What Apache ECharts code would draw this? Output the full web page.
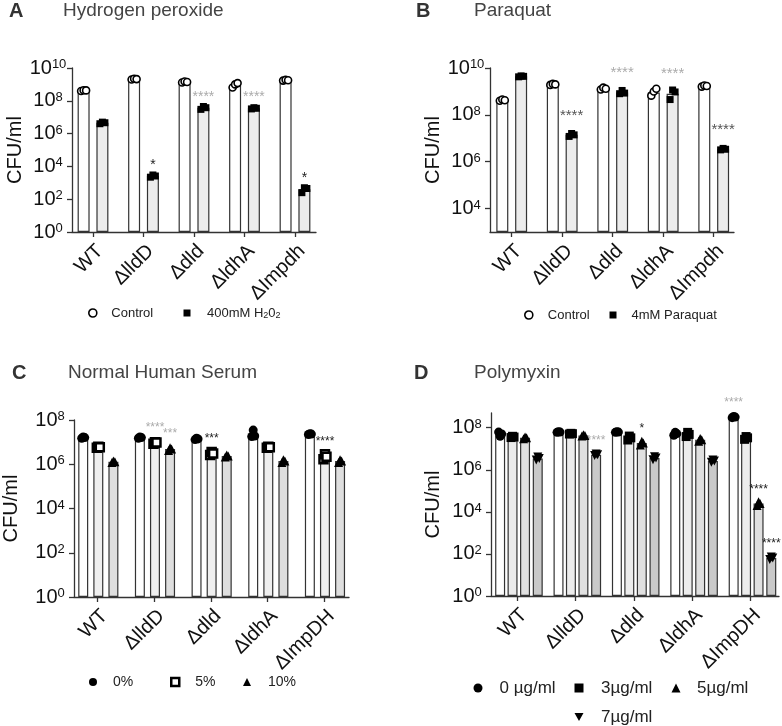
<!DOCTYPE html>
<html><head><meta charset="utf-8">
<script src="https://cdn.jsdelivr.net/npm/echarts@6/dist/echarts.min.js"></script>
<style>html,body{margin:0;padding:0;background:#fff}#c{width:782px;height:726px}</style>
</head><body><div id="c"></div>
<script>
// ---------------- DATA ----------------
const catsAB = ['WT', 'ΔlldD', 'Δdld', 'ΔldhA', 'ΔImpdh'];
const catsCD = ['WT', 'ΔlldD', 'Δdld', 'ΔldhA', 'ΔImpDH'];

// Panel A: Hydrogen peroxide
const aCtrlMean = [4.2e8, 2.1e9, 1.4e9, 8.5e8, 1.8e9];
const aCtrlReps = [[4.0e8, 4.4e8, 4.3e8], [2.0e9, 2.2e9, 2.1e9], [1.3e9, 1.5e9, 1.4e9], [6.5e8, 1.0e9, 1.2e9], [1.7e9, 1.9e9, 1.8e9]];
const aH2o2Mean = [4.6e6, 2.6e3, 3.8e7, 3.5e7, 4.0e2];
const aH2o2Reps = [[4.0e6, 5.0e6, 4.6e6], [2.2e3, 3.0e3, 2.6e3], [3.0e7, 4.5e7, 3.8e7], [3.2e7, 3.8e7, 3.5e7], [2.5e2, 5.0e2, 4.5e2]];
const aH2o2Stars = ['', '*', '****', '****', '*'];
const aH2o2Tone = ['', 'd', 'l', 'l', 'd'];

// Panel B: Paraquat
const bCtrlMean = [4.2e8, 2.0e9, 1.3e9, 9.0e8, 1.7e9];
const bCtrlReps = [[4.0e8, 4.5e8, 4.2e8], [1.9e9, 2.1e9, 2.0e9], [1.2e9, 1.45e9, 1.3e9], [6.6e8, 1.0e9, 1.3e9], [1.6e9, 1.8e9, 1.7e9]];
const bParaMean = [4.4e9, 1.4e7, 9.0e8, 8.0e8, 3.4e6];
const bParaReps = [[4.2e9, 4.6e9, 4.4e9], [1.2e7, 1.6e7, 1.4e7], [8.0e8, 1.1e9, 8.5e8], [4.5e8, 1.15e9, 9.5e8], [3.2e6, 3.7e6, 3.4e6]];
const bParaStars = ['', '****', '****', '****', '****'];
const bParaTone = ['', 'm', 'l', 'l', 'm'];

// Panel C: Normal Human Serum
const c0Mean = [1.6e7, 1.6e7, 1.4e7, 2.3e7, 2.3e7];
const c0Reps = [[1.5e7, 1.7e7, 1.6e7], [1.5e7, 1.7e7, 1.6e7], [1.3e7, 1.5e7, 1.4e7], [1.8e7, 3.5e7, 1.9e7], [2.2e7, 2.4e7, 2.3e7]];
const c5Mean = [5.8e6, 9.4e6, 3.1e6, 5.8e6, 2.2e6];
const c5Reps = [[5.5e6, 6.2e6, 5.8e6], [8.5e6, 1.0e7, 9.5e6], [2.6e6, 3.6e6, 3.1e6], [5.5e6, 6.2e6, 5.8e6], [1.7e6, 2.8e6, 2.2e6]];
const c10Mean = [1.3e6, 4.9e6, 2.35e6, 1.4e6, 1.4e6];
const c10Reps = [[1.2e6, 1.4e6, 1.3e6], [4.2e6, 5.6e6, 4.9e6], [2.1e6, 2.6e6, 2.35e6], [1.2e6, 1.6e6, 1.4e6], [1.2e6, 1.6e6, 1.4e6]];
const c5Stars = ['', '****', '***', '', '****'];
const c5Tone = ['', 'l', 'd', '', 'd'];
const c10Stars = ['', '***', '', '', ''];
const c10Tone = ['', 'l', '', '', ''];

// Panel D: Polymyxin
const d0Mean = [5.0e7, 6.2e7, 6.2e7, 5.2e7, 3.2e8];
const d0Reps = [[6.2e7, 3.9e7, 5.0e7], [6.0e7, 6.4e7, 6.2e7], [6.0e7, 6.4e7, 6.2e7], [4.4e7, 6.0e7, 5.2e7], [3.0e8, 3.4e8, 3.2e8]];
const d3Mean = [3.6e7, 5.2e7, 3.3e7, 4.8e7, 3.3e7];
const d3Reps = [[3.4e7, 3.9e7, 3.6e7], [5.0e7, 5.4e7, 5.2e7], [2.6e7, 4.0e7, 3.3e7], [3.8e7, 6.0e7, 4.8e7], [2.8e7, 3.8e7, 3.3e7]];
const d5Mean = [3.3e7, 4.3e7, 1.85e7, 2.7e7, 2.5e4];
const d5Reps = [[3.0e7, 3.6e7, 3.3e7], [4.0e7, 4.6e7, 4.3e7], [1.5e7, 2.3e7, 1.85e7], [2.3e7, 3.1e7, 2.7e7], [2.0e4, 3.0e4, 2.5e4]];
const d7Mean = [3.4e6, 5.2e6, 3.6e6, 2.6e6, 64];
const d7Reps = [[2.9e6, 4.0e6, 3.4e6], [4.8e6, 5.6e6, 5.2e6], [3.0e6, 4.2e6, 3.6e6], [2.3e6, 2.9e6, 2.6e6], [55, 72, 64]];
const d0Stars = ['', '', '', '', '****'];
const d0Tone = ['', '', '', '', 'l'];
const d5Stars = ['', '', '*', '', '****'];
const d5Tone = ['', '', 'd', '', 'd'];
const d7Stars = ['', '****', '', '', '****'];
const d7Tone = ['', 'l', '', '', 'd'];

const tickAC = [1, 1e2, 1e4, 1e6, 1e8, 1e10];
const tickB = [1e4, 1e6, 1e8, 1e10];
const tickCD = [1, 1e2, 1e4, 1e6, 1e8];

// ---------------- STYLE / LAYOUT ----------------
const FONT = '"Liberation Sans", Arial, Helvetica, sans-serif';
const AX = '#333';
const TONE = { d: '#222', m: '#555', l: '#ababab', '': '#222' };
const TRI_DOWN = 'path://M0,0L10,0L5,9Z';

const option = {
  animation: false,
  backgroundColor: '#fff',
  textStyle: { fontFamily: FONT },
  title: [], grid: [], xAxis: [], yAxis: [], series: [], legend: []
};

function addPanel(p) {
  const gi = option.grid.length;
  option.grid.push({ left: p.left, top: p.top, width: p.width, height: p.height });
  const unit = p.width / (p.xmax - p.xmin);
  const catVals = p.cats.map((c, i) => i + 1);
  option.title.push({ text: p.letter, left: p.letterX, top: p.titleY, padding: 0,
    textStyle: { fontSize: 20, fontWeight: 'bold', color: '#333', fontFamily: FONT } });
  option.title.push({ text: p.title, left: p.titleX, top: p.titleY, padding: 0,
    textStyle: { fontSize: 19, fontWeight: 'normal', color: '#444', fontFamily: FONT } });
  option.xAxis.push({
    type: 'value', gridIndex: gi, min: p.xmin, max: p.xmax, splitLine: { show: false },
    axisLine: { show: true, lineStyle: { color: AX, width: 1.3 } },
    axisTick: { show: true, customValues: catVals, length: 5, lineStyle: { color: AX, width: 1.3 } },
    axisLabel: { customValues: catVals, formatter: v => p.cats[Math.round(v) - 1] || '',
      rotate: 45, align: 'right', verticalAlign: 'top', margin: 9, fontSize: 20, color: '#111' }
  });
  option.yAxis.push({
    type: 'log', logBase: 10, gridIndex: gi, min: p.ymin, max: p.ymax, startValue: p.ymin,
    name: 'CFU/ml', nameLocation: 'middle', nameGap: p.nameGap,
    nameTextStyle: { fontSize: 20, color: '#111' },
    splitLine: { show: false },
    axisLine: { show: true, lineStyle: { color: AX, width: 1.3 } },
    axisTick: { show: true, customValues: p.yticks, length: 5, lineStyle: { color: AX, width: 1.3 } },
    axisLabel: { customValues: p.yticks, align: 'center', margin: 24,
      formatter: v => '{b|10}{s|' + Math.round(Math.log10(v)) + '}',
      rich: { b: { fontSize: 20, color: '#111' }, s: { fontSize: 13, color: '#111', verticalAlign: 'top' } } }
  });
  p.series.forEach(s => {
    option.series.push({
      type: 'bar', name: s.name, xAxisIndex: gi, yAxisIndex: gi, barWidth: p.barW, barGap: '-100%',
      clip: true, z: 2,
      itemStyle: { color: s.fill, borderColor: AX, borderWidth: 1.2 },
      data: s.mean.map((v, i) => ({
        value: [i + 1 + s.off / unit, v],
        label: { show: !!(s.stars && s.stars[i]), position: 'top', distance: p.starDist,
          formatter: (s.stars && s.stars[i]) || '', fontSize: p.starSize,
          color: TONE[(s.tone && s.tone[i]) || ''] }
      }))
    });
    const pts = [];
    s.reps.forEach((arr, i) => arr.forEach((v, j) => pts.push([i + 1 + (s.off + p.jitter[j]) / unit, v])));
    option.series.push({
      type: 'scatter', name: s.name, xAxisIndex: gi, yAxisIndex: gi, z: 5,
      symbol: s.symbol, symbolSize: s.msize,
      itemStyle: { color: s.mfill, borderColor: '#000', borderWidth: s.mborder, opacity: 1 },
      data: pts
    });
    const lg = s.legend;
    option.legend.push({
      data: [{ name: s.name, icon: s.symbol, itemStyle: { color: s.mfill, borderColor: '#000', borderWidth: s.mborder } }],
      left: lg.x - lg.size / 2, top: lg.y - p.legendFont / 2, padding: 0,
      itemWidth: lg.size, itemHeight: lg.size, selectedMode: false,
      formatter: lg.fmt || (n => n),
      textStyle: { fontSize: p.legendFont, color: '#222', padding: [0, 0, 0, lg.gap - lg.size / 2 - 5],
        rich: { sub: { fontSize: 9, color: '#222', verticalAlign: 'bottom', padding: [6, 0, 0, 0] }, n: { fontSize: p.legendFont, color: '#222' } } }
    });
  });
}

addPanel({
  letter: 'A', letterX: 9, title: 'Hydrogen peroxide', titleX: 63, titleY: 1,
  left: 72, top: 68, width: 244, height: 164, xmin: 0.584, xmax: 5.416,
  ymin: 1, ymax: 1e10, yticks: tickAC, nameGap: 46, cats: catsAB,
  barW: 12, jitter: [-2.5, 0, 2.5], starDist: 4, starSize: 14, legendFont: 13,
  series: [
    { name: 'Control', mean: aCtrlMean, reps: aCtrlReps, off: -9.4, fill: '#ffffff',
      symbol: 'circle', msize: 7, mfill: '#ffffff', mborder: 1.6, legend: { x: 92, y: 313, size: 8, gap: 18.5 } },
    { name: '400mM H2O2', mean: aH2o2Mean, reps: aH2o2Reps, off: 9.4, fill: '#ececec', stars: aH2o2Stars, tone: aH2o2Tone,
      symbol: 'rect', msize: 7, mfill: '#000000', mborder: 0,
      legend: { x: 187, y: 313, size: 7, gap: 20, fmt: () => '{n|400mM H}{sub|2}{n|0}{sub|2}' } }
  ]
});

addPanel({
  letter: 'B', letterX: 416, title: 'Paraquat', titleX: 474, titleY: 1,
  left: 490, top: 68, width: 244, height: 164, xmin: 0.570, xmax: 5.402,
  ymin: 1e3, ymax: 1e10, yticks: tickB, nameGap: 44, cats: catsAB,
  barW: 12, jitter: [-2.5, 0, 2.5], starDist: 12, starSize: 15, legendFont: 13,
  series: [
    { name: 'Control', mean: bCtrlMean, reps: bCtrlReps, off: -9.4, fill: '#ffffff',
      symbol: 'circle', msize: 7, mfill: '#ffffff', mborder: 1.6, legend: { x: 528, y: 315, size: 8, gap: 19 } },
    { name: '4mM Paraquat', mean: bParaMean, reps: bParaReps, off: 9.4, fill: '#ececec', stars: bParaStars, tone: bParaTone,
      symbol: 'rect', msize: 7, mfill: '#000000', mborder: 0, legend: { x: 613, y: 315, size: 7, gap: 18.5 } }
  ]
});

addPanel({
  letter: 'C', letterX: 12, title: 'Normal Human Serum', titleX: 68, titleY: 363,
  left: 72, top: 420, width: 277, height: 177, xmin: 0.585, xmax: 5.438,
  ymin: 1, ymax: 1e8, yticks: tickCD, nameGap: 53, cats: catsCD,
  barW: 10, jitter: [-1.5, 0, 1.5], starDist: 9, starSize: 12, legendFont: 14,
  series: [
    { name: '0%', mean: c0Mean, reps: c0Reps, off: -14.4, fill: '#ffffff',
      symbol: 'circle', msize: 9, mfill: '#000000', mborder: 0, legend: { x: 93, y: 682, size: 8, gap: 20 } },
    { name: '5%', mean: c5Mean, reps: c5Reps, off: 0.8, fill: '#efefef', stars: c5Stars, tone: c5Tone,
      symbol: 'rect', msize: 8, mfill: '#ffffff', mborder: 2.5, legend: { x: 174, y: 682, size: 8, gap: 20 } },
    { name: '10%', mean: c10Mean, reps: c10Reps, off: 16, fill: '#dedede', stars: c10Stars, tone: c10Tone,
      symbol: 'triangle', msize: 9, mfill: '#000000', mborder: 0, legend: { x: 247, y: 682, size: 8, gap: 21 } }
  ]
});

addPanel({
  letter: 'D', letterX: 414, title: 'Polymyxin', titleX: 474, titleY: 363,
  left: 491, top: 413, width: 288, height: 183, xmin: 0.554, xmax: 5.487,
  ymin: 1, ymax: 5e8, yticks: tickCD, nameGap: 48, cats: catsCD,
  barW: 10, jitter: [-1.5, 0, 1.5], starDist: 8, starSize: 12, legendFont: 17,
  series: [
    { name: '0 µg/ml', mean: d0Mean, reps: d0Reps, off: -16.9, fill: '#ffffff', stars: d0Stars, tone: d0Tone,
      symbol: 'circle', msize: 9, mfill: '#000000', mborder: 0, legend: { x: 478, y: 688, size: 9, gap: 21.5 } },
    { name: '3µg/ml', mean: d3Mean, reps: d3Reps, off: -4.5, fill: '#ececec',
      symbol: 'rect', msize: 9, mfill: '#000000', mborder: 0, legend: { x: 579, y: 688, size: 9, gap: 22 } },
    { name: '5µg/ml', mean: d5Mean, reps: d5Reps, off: 8, fill: '#e0e0e0', stars: d5Stars, tone: d5Tone,
      symbol: 'triangle', msize: 9, mfill: '#000000', mborder: 0, legend: { x: 676, y: 688, size: 9, gap: 21 } },
    { name: '7µg/ml', mean: d7Mean, reps: d7Reps, off: 20.7, fill: '#c9c9c9', stars: d7Stars, tone: d7Tone,
      symbol: TRI_DOWN, msize: 9, mfill: '#000000', mborder: 0, legend: { x: 579, y: 717, size: 9, gap: 22 } }
  ]
});

const chart = echarts.init(document.getElementById('c'), null, { renderer: 'canvas' });
chart.setOption(option);
</script>
</body></html>
